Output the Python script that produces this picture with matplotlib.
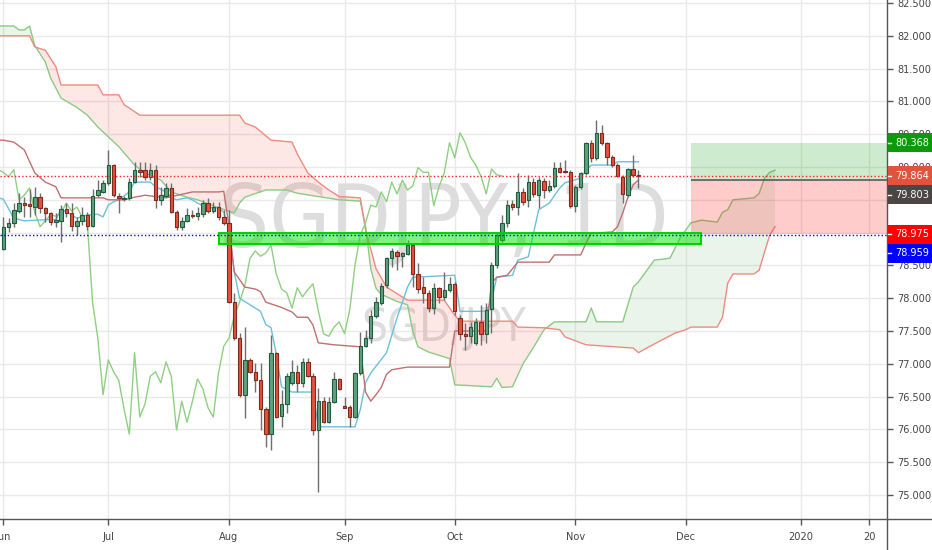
import matplotlib
matplotlib.use('Agg')
import matplotlib.pyplot as plt
from matplotlib import font_manager as fm
from matplotlib.patches import Rectangle
from matplotlib.lines import Line2D
import numpy as np
import pandas as pd

# ------------------------------------------------------------------ data
start_date = '2019-06-03'          # first daily bar shown (business days)

opens = [
    78.75, 79.09, 79.15, 79.33, 79.45, 79.44, 79.39, 79.54, 79.38, 79.30,
    79.16, 79.18, 79.36, 79.30, 79.10, 79.18, 79.27, 79.10, 79.57, 79.62,
    79.76, 80.03, 79.56, 79.51, 79.53, 79.77, 79.96, 79.96, 79.85, 79.96,
    79.50, 79.56, 79.68, 79.31, 79.09, 79.18, 79.27, 79.25, 79.28, 79.45,
    79.33, 79.39, 79.24, 79.15, 77.94, 77.39, 76.53, 77.06, 76.88, 76.75,
    76.31, 75.93, 77.17, 76.21, 76.39, 76.71, 76.88, 76.71, 77.03, 76.81,
    75.99, 76.43, 76.11, 76.42, 76.77, 76.35, 76.34, 76.19, 76.86, 77.27,
    77.39, 77.73, 77.93, 78.20, 78.61, 78.71, 78.64, 78.67, 78.81, 78.37,
    78.17, 78.08, 77.85, 78.16, 78.02, 78.13, 78.22, 77.70, 77.46, 77.42,
    77.32, 77.64, 77.46, 77.84, 78.51, 78.89, 79.15, 79.44, 79.39, 79.62,
    79.50, 79.77, 79.57, 79.79, 79.65, 79.71, 79.99, 79.94, 79.92, 79.41,
    79.70, 79.91, 80.37, 80.14, 80.52, 80.37, 80.15, 80.03, 79.85, 79.57,
    79.97, 79.88]
highs = [
    79.24, 79.22, 79.45, 79.60, 79.54, 79.67, 79.70, 79.60, 79.39, 79.31,
    79.30, 79.42, 79.45, 79.45, 79.24, 79.39, 79.31, 79.67, 79.80, 79.80,
    80.26, 80.05, 79.60, 79.56, 79.83, 80.08, 80.08, 80.08, 80.06, 80.03,
    79.70, 79.76, 79.76, 79.35, 79.24, 79.38, 79.35, 79.39, 79.50, 79.53,
    79.47, 79.47, 79.35, 79.35, 78.08, 77.47, 77.56, 77.09, 77.01, 77.01,
    76.34, 77.44, 77.18, 76.60, 76.86, 77.06, 76.98, 77.09, 77.09, 76.86,
    76.63, 76.49, 76.49, 76.88, 76.78, 76.49, 76.37, 76.88, 77.49, 77.52,
    77.82, 78.02, 78.23, 78.63, 78.77, 78.74, 78.71, 78.89, 78.84, 78.54,
    78.32, 78.13, 78.23, 78.17, 78.40, 78.32, 78.25, 77.74, 77.62, 77.64,
    77.70, 77.90, 77.93, 78.55, 78.99, 79.27, 79.50, 79.50, 79.91, 79.68,
    79.88, 79.83, 79.85, 79.83, 79.80, 80.08, 80.08, 80.11, 79.96, 79.73,
    79.92, 80.38, 80.41, 80.72, 80.64, 80.38, 80.18, 80.06, 79.88, 79.99,
    80.18, 79.96]
lows = [
    78.74, 79.01, 79.09, 79.30, 79.24, 79.24, 79.27, 79.30, 79.16, 79.12,
    79.09, 78.86, 79.24, 79.03, 78.96, 79.12, 79.04, 79.09, 79.54, 79.60,
    79.73, 79.54, 79.30, 79.48, 79.50, 79.76, 79.85, 79.80, 79.80, 79.38,
    79.42, 79.54, 79.30, 79.04, 79.04, 79.16, 79.22, 79.19, 79.24, 79.30,
    79.30, 79.19, 79.12, 77.93, 77.36, 76.49, 76.17, 76.86, 76.57, 75.99,
    75.73, 75.69, 76.17, 76.04, 76.25, 76.68, 76.57, 76.65, 76.80, 75.92,
    75.05, 76.10, 76.10, 76.40, 76.60, 76.33, 76.04, 76.17, 76.83, 77.26,
    77.32, 77.70, 77.90, 78.16, 78.48, 78.43, 78.48, 78.66, 78.17, 78.08,
    77.93, 77.79, 77.76, 77.93, 77.97, 78.10, 77.74, 77.36, 77.21, 77.32,
    77.29, 77.29, 77.32, 77.47, 78.46, 78.86, 79.09, 79.35, 79.27, 79.42,
    79.39, 79.54, 79.38, 79.53, 79.62, 79.68, 79.91, 79.91, 79.38, 79.31,
    79.67, 79.88, 80.08, 80.11, 80.34, 80.03, 80.00, 79.85, 79.45, 79.54,
    79.85, 79.68]
closes = [
    79.09, 79.15, 79.35, 79.45, 79.42, 79.41, 79.54, 79.38, 79.30, 79.16,
    79.19, 79.36, 79.30, 79.10, 79.18, 79.27, 79.10, 79.56, 79.65, 79.76,
    80.03, 79.57, 79.53, 79.53, 79.77, 79.96, 79.92, 79.85, 79.96, 79.50,
    79.57, 79.68, 79.31, 79.09, 79.18, 79.27, 79.25, 79.30, 79.45, 79.33,
    79.39, 79.24, 79.15, 77.94, 77.39, 76.53, 77.06, 76.88, 76.75, 76.31,
    75.93, 77.17, 76.19, 76.39, 76.81, 76.88, 76.71, 77.03, 76.81, 75.99,
    76.43, 76.11, 76.42, 76.77, 76.62, 76.33, 76.19, 76.86, 77.27, 77.39,
    77.73, 77.94, 78.19, 78.61, 78.72, 78.64, 78.69, 78.81, 78.37, 78.14,
    78.08, 77.85, 78.16, 78.02, 78.13, 78.22, 77.81, 77.46, 77.42, 77.56,
    77.64, 77.46, 77.82, 78.51, 78.96, 79.15, 79.42, 79.39, 79.62, 79.47,
    79.77, 79.59, 79.80, 79.65, 79.71, 79.99, 79.92, 79.92, 79.41, 79.70,
    79.91, 80.37, 80.14, 80.52, 80.37, 80.15, 80.03, 79.86, 79.59, 79.97,
    79.88, 79.864]

# Ichimoku lines: (bar number, price)
tenkan = [(-1, 79.53), (0, 79.51), (2, 79.22), (4, 79.18), (9, 79.20), (10, 79.20), (11, 79.35),
          (12, 79.32), (14, 79.22), (16, 79.27), (18, 79.28), (19, 79.24), (20, 79.42), (21, 79.47),
          (22, 79.50), (24, 79.62), (25, 79.77), (28, 79.77), (29, 79.70), (31, 79.62), (32, 79.54),
          (33, 79.50), (35, 79.53), (36, 79.50), (37, 79.45), (39, 79.38), (41, 79.38), (42, 79.31),
          (43, 79.04), (44, 78.40), (45, 78.00), (47, 77.90), (49, 77.80), (50, 77.60), (51, 77.55),
          (52, 77.15), (53, 76.65), (55, 76.57), (59, 76.57), (60, 76.04), (67, 76.04), (68, 76.30),
          (69, 76.71), (70, 76.86), (73, 77.17), (75, 77.70), (77, 78.17), (78, 78.32), (86, 78.35),
          (87, 77.80), (92, 77.80), (93, 77.97), (94, 78.32), (97, 78.35), (98, 78.58), (100, 78.63),
          (101, 78.99), (102, 79.35), (104, 79.45), (106, 79.68), (107, 79.76), (110, 79.83),
          (111, 79.95), (112, 80.03), (116, 80.03), (117, 80.08), (121, 80.08)]
kijun = [(-1, 80.41), (0, 80.41), (2, 80.38), (4, 80.26), (6, 79.91), (8, 79.77), (10, 79.70),
         (11, 79.53), (19, 79.53), (20, 79.50), (23, 79.50), (25, 79.54), (27, 79.57), (29, 79.55),
         (31, 79.53), (36, 79.62), (41, 79.62), (42, 79.63), (43, 79.10), (44, 78.40), (46, 78.17),
         (48, 78.14), (49, 78.10), (50, 77.94), (53, 77.86), (55, 77.79), (56, 77.71), (58, 77.71),
         (59, 77.59), (60, 77.32), (63, 77.29), (68, 77.26), (69, 76.57), (70, 76.43), (71, 76.53),
         (72, 76.64), (73, 76.84), (74, 76.91), (77, 76.95), (85, 76.95), (86, 77.50), (92, 77.50),
         (93, 78.23), (94, 78.32), (96, 78.35), (97, 78.45), (98, 78.55), (104, 78.55), (105, 78.66),
         (110, 78.66), (111, 78.84), (112, 78.99), (116, 79.01), (117, 79.09), (118, 79.30),
         (119, 79.54), (120, 79.73), (121, 79.80)]
span_a = [(-1, 82.15), (2, 82.15), (3, 82.09), (4, 82.09), (5, 82.15), (6, 81.85), (8, 81.60),
          (9, 81.36), (11, 81.05), (14, 80.91), (16, 80.79), (18, 80.61), (20, 80.46), (22, 80.31),
          (25, 80.03), (27, 79.91), (30, 79.80), (32, 79.62), (35, 79.54), (37, 79.50), (41, 79.38),
          (44, 79.30), (45, 79.45), (46, 79.54), (50, 79.65), (54, 79.65), (56, 79.60), (60, 79.55),
          (64, 79.50), (68, 79.48), (69, 79.10), (70, 78.45), (71, 78.15), (72, 78.06), (75, 77.95),
          (77, 77.90), (78, 77.50), (79, 77.26), (81, 77.18), (85, 77.08), (86, 76.68), (93, 76.65),
          (94, 76.78), (95, 76.64), (97, 76.65), (99, 77.00), (101, 77.25), (103, 77.52),
          (105, 77.64), (111, 77.64), (112, 77.85), (113, 77.64), (118, 77.64), (120, 78.17),
          (121, 78.25), (124, 78.58), (127, 78.61), (129, 78.93), (131, 79.15), (133, 79.19),
          (136, 79.16), (137, 79.31), (138, 79.35), (139, 79.50), (143, 79.53), (144, 79.60),
          (145, 79.83), (146, 79.92), (147, 79.95)]
span_b = [(-1, 82.00), (5, 82.00), (6, 81.83), (8, 81.78), (10, 81.53), (11, 81.25), (18, 81.25),
          (19, 81.10), (22, 81.10), (23, 80.95), (24, 80.90), (26, 80.79), (45, 80.79), (46, 80.67),
          (48, 80.61), (51, 80.41), (55, 80.38), (56, 80.20), (58, 79.91), (60, 79.77), (62, 79.65),
          (64, 79.55), (68, 79.53), (69, 79.05), (70, 78.75), (71, 78.45), (73, 78.17), (77, 77.97),
          (84, 77.97), (86, 77.74), (87, 77.65), (97, 77.65), (98, 77.56), (103, 77.55),
          (106, 77.52), (107, 77.41), (111, 77.29), (120, 77.24), (121, 77.17), (123, 77.26),
          (128, 77.47), (130, 77.52), (131, 77.56), (136, 77.56), (137, 77.71), (138, 78.23),
          (139, 78.37), (143, 78.37), (144, 78.43), (145, 78.70), (146, 78.96), (147, 79.09)]
lagging_shift = 26

month_dates = ['2019-06-03', '2019-07-01', '2019-08-01', '2019-09-02', '2019-10-01',
               '2019-11-01', '2019-12-02', '2020-01-01', '2020-01-20']
month_labels = ['Jun', 'Jul', 'Aug', 'Sep', 'Oct', 'Nov', 'Dec', '2020', '20']
price_ticks = [75.0, 75.5, 76.0, 76.5, 77.0, 77.5, 78.0, 78.5,
               79.0, 79.5, 80.0, 80.5, 81.0, 81.5, 82.0, 82.5]

last_price = 79.864
blue_level = 78.959
zone_top, zone_bottom = 79.00, 78.83
zone_from, zone_to = '2019-07-30', '2019-12-05'
position_from = '2019-12-03'
target_price, entry_price, stop_price = 80.368, 79.803, 78.975

# ------------------------------------------------------------------ fonts
def has_font(name):
    try:
        fm.findfont(fm.FontProperties(family=name), fallback_to_default=False)
        return True
    except Exception:
        return False

if has_font('Liberation Sans Narrow'):
    FAM, STRETCH, FS = 'Liberation Sans Narrow', 'normal', 8.4
else:
    FAM, STRETCH, FS = 'DejaVu Sans', 'condensed', 7.8
plt.rcParams['font.family'] = [FAM, 'DejaVu Sans']
plt.rcParams['font.stretch'] = STRETCH

# ------------------------------------------------------------------ figure
W, H = 932, 550
AXR, AXB = 887.3, 519.3            # pixel position of price axis / time axis
fig = plt.figure(figsize=(W / 100, H / 100), dpi=100)
fig.patch.set_facecolor('white')
ax = fig.add_axes([0, (H - AXB) / H, AXR / W, AXB / H])
ax.set_xlim(-0.63, 168.4)
ax.set_ylim(74.630, 82.546)

days = pd.bdate_range(start_date, periods=220)
def bar(d):
    return days.get_loc(pd.Timestamp(d))

# grid
ax.set_axisbelow(True)
ax.grid(True, color='#e9e9e9', lw=1)

# watermarks
wm1 = ax.text(0.5, 1 - 247 / AXB, 'SGDJPY, 1D', transform=ax.transAxes, ha='center',
              va='baseline', fontsize=60, color='#dddddd', zorder=0.6)
wm2 = ax.text(0.5, 1 - 341 / AXB, 'SGD/JPY', transform=ax.transAxes, ha='center',
              va='baseline', fontsize=30, color='#dddddd', zorder=0.6)
fig.canvas.draw()
rend = fig.canvas.get_renderer()
wm1.set_fontsize(60 * 450 / wm1.get_window_extent(rend).width)
wm2.set_fontsize(30 * 165 / wm2.get_window_extent(rend).width)

# cloud
def xy(pairs):
    a = np.array(pairs, dtype=float)
    return a[:, 0], a[:, 1]

ax_, ay_ = xy(span_a)
bx_, by_ = xy(span_b)
grid = np.linspace(-1, 147, 2961)
ga = np.interp(grid, ax_, ay_)
gb = np.interp(grid, bx_, by_)
ax.fill_between(grid, ga, gb, where=ga >= gb, interpolate=True, color='#43a047',
                alpha=0.11, lw=0, zorder=1)
ax.fill_between(grid, ga, gb, where=ga < gb, interpolate=True, color='#f44336',
                alpha=0.12, lw=0, zorder=1)
ax.plot(ax_, ay_, color='#8acb84', lw=1, zorder=2)
ax.plot(bx_, by_, color='#f08a80', lw=1, zorder=2)

tx, ty = xy(tenkan)
ax.plot(tx, ty, color='#6cc0dc', lw=1, zorder=2.2)
kx, ky = xy(kijun)
ax.plot(kx, ky, color='#c07070', lw=1, zorder=2.2)
lag_x = np.arange(len(closes)) - lagging_shift
ax.plot(lag_x, closes, color='#8fcf82', lw=1, zorder=2.1)

# candles
o = np.array(opens); hi = np.array(highs); lo = np.array(lows); c = np.array(closes)
xb = np.arange(len(o))
up = c >= o
ax.vlines(xb, lo, hi, color='#6e6e6e', lw=1, zorder=3)
blo = np.minimum(o, c)
bh = np.maximum(np.abs(c - o), 0.012)
ax.bar(xb[up], bh[up], bottom=blo[up], width=0.66, color='#5fa17f',
       edgecolor='#1f5b3d', linewidth=0.8, zorder=3.2)
ax.bar(xb[~up], bh[~up], bottom=blo[~up], width=0.66, color='#e4513d',
       edgecolor='#7e2a1c', linewidth=0.8, zorder=3.2)

# long-position tool
x_end = ax.get_xlim()[1]
p0 = bar(position_from)
ax.add_patch(Rectangle((p0, entry_price), x_end - p0, target_price - entry_price,
                       facecolor='#009900', alpha=0.19, lw=0, zorder=4))
ax.add_patch(Rectangle((p0, stop_price), x_end - p0, entry_price - stop_price,
                       facecolor='#ff0000', alpha=0.2, lw=0, zorder=4))
ax.hlines(entry_price, p0, x_end, color='#5a5a5a', lw=1.2, zorder=4.5)

# support zone rectangle
z0, z1 = bar(zone_from), bar(zone_to)
ax.add_patch(Rectangle((z0, zone_bottom), z1 - z0, zone_top - zone_bottom,
                       facecolor='#00e600', alpha=0.5, edgecolor='none', zorder=5))
ax.add_patch(Rectangle((z0, zone_bottom), z1 - z0, zone_top - zone_bottom,
                       facecolor='none', edgecolor='#00d000', lw=1.4, zorder=5.1))

# dotted horizontal lines
ax.axhline(last_price, color='#ff2020', lw=1, ls=(0, (1, 1.6)), zorder=6)
ax.axhline(blue_level, color='#0000ff', lw=1, ls=(0, (1, 1.6)), zorder=6)

# axes styling
for s in ['left', 'top']:
    ax.spines[s].set_visible(False)
for s in ['right', 'bottom']:
    ax.spines[s].set_color('#555555')
    ax.spines[s].set_linewidth(1)
ax.yaxis.tick_right()
ax.set_yticks(price_ticks)
ax.set_yticklabels([f'{p:.3f}' for p in price_ticks])
ax.set_xticks([bar(d) for d in month_dates])
ax.set_xticklabels(month_labels)
ax.tick_params(axis='y', direction='out', length=4, width=1, color='#555555', pad=3,
               labelsize=FS, labelcolor='#444444')
ax.tick_params(axis='x', direction='out', length=4, width=1, color='#555555', pad=5.5,
               labelsize=FS, labelcolor='#444444')

# axis lines extending into the margins
fig.add_artist(Line2D([AXR / W, AXR / W], [0, (H - AXB) / H], color='#555555', lw=1,
                      transform=fig.transFigure))
fig.add_artist(Line2D([AXR / W, 1], [(H - AXB) / H] * 2, color='#555555', lw=1,
                      transform=fig.transFigure))

# price labels on the axis
def ypix(price):
    return ax.transData.transform((0, price))[1]

def price_label(value, center, face):
    fig.add_artist(Rectangle(((AXR + 0.5) / W, (center - 9.5) / H), (W - AXR - 0.5) / W, 19 / H,
                             transform=fig.transFigure, facecolor=face, edgecolor='none',
                             zorder=20))
    fig.add_artist(Line2D([(AXR + 0.5) / W, (AXR + 4) / W], [center / H] * 2, color='white',
                          lw=1, transform=fig.transFigure, zorder=21))
    fig.text(895 / W, center / H, f'{value:.3f}', color='white', fontsize=FS,
             va='center', ha='left', zorder=22)

c_last = ypix(last_price)
c_stop = ypix(stop_price)
price_label(target_price, ypix(target_price), '#0a9a0a')
price_label(last_price, c_last, '#e0533e')
price_label(entry_price, c_last - 19, '#4b4545')
price_label(stop_price, c_stop, '#ff0000')
price_label(blue_level, c_stop - 19, '#0000ff')

fig.savefig('out.png', dpi=100, facecolor='white')
